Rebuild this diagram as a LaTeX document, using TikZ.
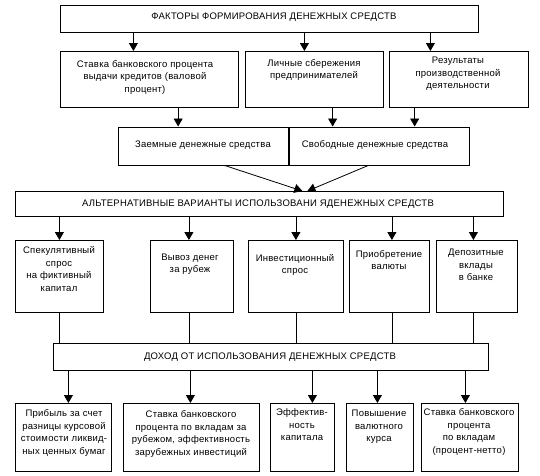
\documentclass[tikz,border=0pt]{standalone}
\usepackage{fontspec}
\setmainfont{Liberation Sans}[LetterSpace=2.5]
\usetikzlibrary{arrows.meta,calc}
\begin{document}
\begin{tikzpicture}[x=1pt,y=-1pt,
  box/.style={draw, line width=0.8pt, inner sep=0pt, anchor=north west},
  txt/.style={inner sep=0pt, align=center, font=\fontsize{9.5}{12.5}\selectfont},
  arr/.style={line width=0.8pt, -{Triangle[width=9pt,length=8pt]}},
  ln/.style={line width=0.8pt}]
\useasboundingbox (0,0) rectangle (540,475);
% boxes
\node[box, minimum width=418pt, minimum height=27pt] (top) at (60,5) {};
\node[box, minimum width=178pt, minimum height=56pt] (A) at (60,51) {};
\node[box, minimum width=138pt, minimum height=56pt] (B) at (245,51) {};
\node[box, minimum width=139pt, minimum height=56pt] (C) at (389,51) {};
\node[box, minimum width=169.5pt, minimum height=38pt] (ML) at (118,126.5) {};
\node[box, minimum width=180.5pt, minimum height=38pt] (MR) at (288.5,126.5) {};
\node[box, minimum width=488pt, minimum height=25pt] (alt) at (15,191) {};
\node[box, minimum width=88pt, minimum height=72pt] (R1) at (15,240) {};
\node[box, minimum width=83pt, minimum height=72pt] (R2) at (150,240) {};
\node[box, minimum width=95pt, minimum height=72pt] (R3) at (248,240) {};
\node[box, minimum width=80pt, minimum height=72pt] (R4) at (349,240) {};
\node[box, minimum width=81pt, minimum height=72pt] (R5) at (436,240) {};
\node[box, minimum width=435pt, minimum height=27pt] (inc) at (53,343) {};
\node[box, minimum width=96pt, minimum height=68pt] (B1) at (15,403) {};
\node[box, minimum width=136pt, minimum height=68pt] (B2) at (123,403) {};
\node[box, minimum width=64pt, minimum height=68pt] (B3) at (270,403) {};
\node[box, minimum width=67pt, minimum height=68pt] (B4) at (346,403) {};
\node[box, minimum width=97pt, minimum height=68pt] (B5) at (421,403) {};
% texts
\node[txt] (tTop) at (274,17) {ФАКТОРЫ ФОРМИРОВАНИЯ ДЕНЕЖНЫХ СРЕДСТВ};
\node[txt] (tA) at (145,77) {Ставка банковского процента\\выдачи кредитов (валовой\\процент)};
\node[txt] (tB) at (314,70) {Личные сбережения\\предпринимателей};
\node[txt] (tC) at (458,74) {Результаты\\производственной\\деятельности};
\node[txt] (tML) at (203,145) {Заемные денежные средства};
\node[txt] (tMR) at (375,145) {Свободные денежные средства};
\node[txt] (tAlt) at (258,204) {АЛЬТЕРНАТИВНЫЕ ВАРИАНТЫ ИСПОЛЬЗОВАНИ ЯДЕНЕЖНЫХ СРЕДСТВ};
\node[txt] (tR1) at (59,269) {Спекулятивный\\спрос\\на фиктивный\\капитал};
\node[txt] (tR2) at (190,264) {Вывоз денег\\за рубеж};
\node[txt] (tR3) at (295,265) {Инвестиционный\\спрос};
\node[txt] (tR4) at (389,260) {Приобретение\\валюты};
\node[txt] (tR5) at (476,265) {Депозитные\\вклады\\в банке};
\node[txt] (tInc) at (270,357) {ДОХОД ОТ ИСПОЛЬЗОВАНИЯ ДЕНЕЖНЫХ СРЕДСТВ};
\node[txt] (tB1) at (64,433) {Прибыль за счет\\разницы курсовой\\стоимости ликвид-\\ных ценных бумаг};
\node[txt] (tB2) at (191,434) {Ставка банковского\\процента по вкладам за\\рубежом, эффективность\\зарубежных инвестиций};
\node[txt] (tB3) at (302,425) {Эффектив-\\ность\\капитала};
\node[txt] (tB4) at (379,427) {Повышение\\валютного\\курса};
\node[txt] (tB5) at (469,432) {Ставка банковского\\процента\\по вкладам\\(процент-нетто)};
% helper coordinates
\coordinate (a1) at ([xshift=-16pt]A.north);
\coordinate (b1) at ([xshift=-10pt]B.north);
\coordinate (c1) at ([xshift=-28.5pt]C.north);
\coordinate (m1) at ([xshift=-25pt]ML.north);
\coordinate (m2) at ([xshift=-46.5pt]MR.north);
\coordinate (m3) at ([xshift=35.5pt]MR.north);
\coordinate (s1) at ([xshift=21pt]ML.south);
\coordinate (s2) at ([xshift=-10.5pt]MR.south);
\coordinate (e1) at ([xshift=43pt]alt.north);
\coordinate (e2) at ([xshift=48pt]alt.north);
\coordinate (r1) at (R1.north);
\coordinate (r2) at ([xshift=-3pt]R2.north);
\coordinate (r3) at (R3.north);
\coordinate (r4) at ([xshift=2.5pt]R4.north);
\coordinate (r5) at ([xshift=-3.5pt]R5.north);
\coordinate (q1) at ([xshift=5pt]B1.north);
\coordinate (q2) at ([xshift=-1pt]B2.north);
\coordinate (q3) at ([xshift=10pt]B3.north);
\coordinate (q4) at ([xshift=-2.5pt]B4.north);
\coordinate (q5) at ([xshift=-4.5pt]B5.north);
% connectors
\draw[arr] (a1 |- top.south) -- (a1);
\draw[arr] (b1 |- top.south) -- (b1);
\draw[arr] (c1 |- top.south) -- (c1);
\draw[arr] (m1 |- A.south) -- (m1);
\draw[arr] (m2 |- B.south) -- (m2);
\draw[arr] (m3 |- C.south) -- (m3);
\draw[arr] (s1) -- (e1);
\draw[arr] (s2) -- (e2);
\foreach \r in {r1,r2,r3,r4,r5}{
  \draw[arr] (\r |- alt.south) -- (\r);
}
\draw[ln] (r1 |- R1.south) -- (r1 |- inc.north);
\draw[ln] (r2 |- R2.south) -- (r2 |- inc.north);
\draw[ln] (r3 |- R3.south) -- (r3 |- inc.north);
\draw[ln] (r4 |- R4.south) -- (r4 |- inc.north);
\draw[ln] (r5 |- R5.south) -- (r5 |- inc.north);
\foreach \q in {q1,q2,q3,q4,q5}{
  \draw[arr] (\q |- inc.south) -- (\q);
}
\end{tikzpicture}
\end{document}
